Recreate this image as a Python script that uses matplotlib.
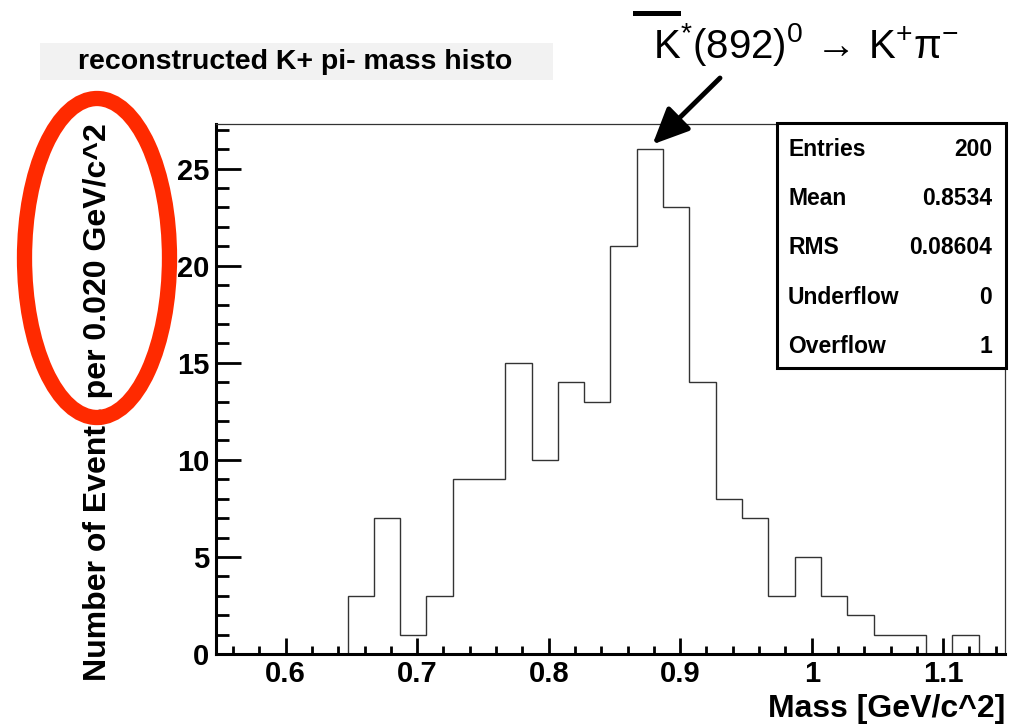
import numpy as np
import matplotlib
matplotlib.use('Agg')
import matplotlib.pyplot as plt
from matplotlib.patches import Rectangle, Ellipse
from matplotlib.ticker import MultipleLocator, FixedLocator

W, H = 1022, 725

# histogram: 30 bins of 0.020 GeV/c^2
x_min = 0.547
bin_width = 0.02
counts = [0, 0, 0, 0, 0, 3, 7, 1, 3, 9, 9, 15, 10, 14, 13,
          21, 26, 23, 14, 8, 7, 3, 5, 3, 2, 1, 1, 0, 1, 0]

x_ticks = [0.6, 0.7, 0.8, 0.9, 1.0, 1.1]
x_tick_labels = ['0.6', '0.7', '0.8', '0.9', '1', '1.1']
y_ticks = [0, 5, 10, 15, 20, 25]

stat_names = ['Entries', 'Mean', 'RMS', 'Underflow', 'Overflow']
stat_values = ['200', '0.8534', '0.08604', '0', '1']

title = 'reconstructed K+ pi- mass histo'
xlabel = 'Mass [GeV/c^2]'
ylabel = 'Number of Events per 0.020 GeV/c^2'
decay = r'$\mathrm{K^{*}(892)^{0}}\,\rightarrow\,\mathrm{K^{+}\pi^{-}}$'

plt.rcParams['font.family'] = ['Liberation Sans', 'DejaVu Sans']
plt.rcParams['mathtext.fontset'] = 'custom'
plt.rcParams['mathtext.rm'] = 'Liberation Sans'
plt.rcParams['mathtext.it'] = 'Liberation Sans:italic'
plt.rcParams['mathtext.bf'] = 'Liberation Sans:bold'


def fx(px):
    return px / W


def fy(py):
    return 1 - py / H


edges = x_min + bin_width * np.arange(len(counts) + 1)

fig = plt.figure(figsize=(W / 100, H / 100), dpi=100)
ax = fig.add_axes([fx(216), fy(654), (1005 - 216) / W, (654 - 124) / H])

ax.stairs(counts, edges, baseline=0, color='#333333', lw=1.0)
ax.set_xlim(edges[0], edges[-1])
ax.set_ylim(0, max(counts) * 1.05)

ax.xaxis.set_major_locator(FixedLocator(x_ticks))
ax.set_xticklabels(x_tick_labels)
ax.xaxis.set_minor_locator(MultipleLocator(0.02))
ax.yaxis.set_major_locator(FixedLocator(y_ticks))
ax.yaxis.set_minor_locator(MultipleLocator(1))

ax.tick_params(axis='both', which='both', direction='in', top=False, right=False,
               width=2, labelsize=21)
ax.tick_params(axis='x', which='major', length=11.5, pad=4)
ax.tick_params(axis='x', which='minor', length=6)
ax.tick_params(axis='y', which='major', length=18, pad=5)
ax.tick_params(axis='y', which='minor', length=9)
for lab in ax.get_xticklabels() + ax.get_yticklabels():
    lab.set_fontweight('bold')

for s in ['left', 'bottom']:
    ax.spines[s].set_linewidth(2.2)
    ax.spines[s].set_color('black')
for s in ['top', 'right']:
    ax.spines[s].set_linewidth(0.9)
    ax.spines[s].set_color('#333333')

ax.set_xlabel(xlabel, fontsize=23, fontweight='bold', ha='right', va='baseline')
ax.xaxis.set_label_coords(1.0, (654 - 717) / 530)
ax.set_ylabel(ylabel, fontsize=23, fontweight='bold', va='center', ha='center')
ax.yaxis.set_label_coords((98 - 216) / 789, (654 - 402) / 530)

# title box
fig.patches.append(Rectangle((fx(40), fy(80)), (553 - 40) / W, (80 - 43) / H,
                             transform=fig.transFigure, facecolor='#f2f2f2',
                             edgecolor='none', zorder=1))
fig.text(fx(295), fy(62), title, ha='center', va='center', fontsize=20.5,
         fontweight='bold', zorder=2)

# stats box
fig.patches.append(Rectangle((fx(777), fy(368)), (1006 - 777) / W, (368 - 123) / H,
                             transform=fig.transFigure, facecolor='white',
                             edgecolor='black', lw=2.2, zorder=3))
for i, (name, val) in enumerate(zip(stat_names, stat_values)):
    y = fy(149 + i * 49.5)
    fig.text(fx(788), y, name, ha='left', va='center', fontsize=16.5,
             fontweight='bold', zorder=4)
    fig.text(fx(992), y, val, ha='right', va='center', fontsize=16.5,
             fontweight='bold', zorder=4)

# decay label with overbar and arrow to the peak
fig.text(fx(653), fy(58), decay, ha='left', va='baseline', fontsize=29, zorder=4)
fig.add_artist(plt.Line2D([fx(635), fx(678)], [fy(13), fy(13)], color='black',
                          lw=3.6, transform=fig.transFigure))
peak = int(np.argmax(counts))
ax.annotate('', xy=(edges[peak] + 0.6 * bin_width, counts[peak] + 0.25),
            xycoords='data', xytext=(fx(720), fy(78)), textcoords='figure fraction',
            arrowprops=dict(arrowstyle='-|>,head_length=0.55,head_width=0.25',
                            lw=3.5, color='black', mutation_scale=40,
                            shrinkA=0, shrinkB=0),
            annotation_clip=False)

# red hand-drawn ellipse around the y label
fig.patches.append(Ellipse((fx(97), fy(258)), 145 / W, 319 / H,
                           transform=fig.transFigure, facecolor='none',
                           edgecolor='#ff2a00', lw=11, zorder=5))

fig.savefig('out.png', dpi=100)
